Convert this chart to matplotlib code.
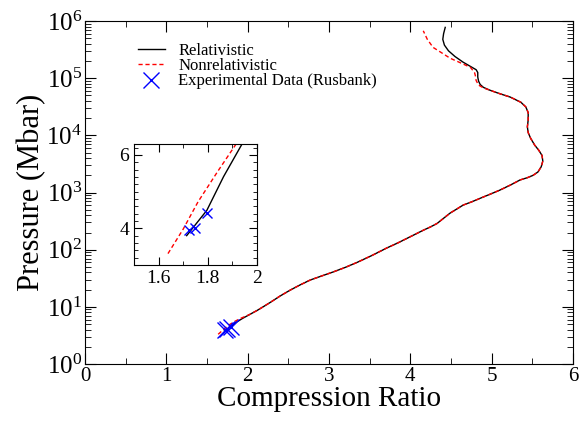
import matplotlib
matplotlib.use("Agg")
from matplotlib import pyplot as plt
from matplotlib.ticker import MultipleLocator, FuncFormatter, LogLocator, NullFormatter

plt.rcParams['font.family'] = ['Liberation Serif', 'DejaVu Serif']
plt.rcParams['mathtext.fontset'] = 'stix'

# relativistic Hugoniot (compression ratio, pressure in Mbar)
rel_x = [1.714, 1.796, 1.864, 1.94, 2.03, 2.12, 2.20, 2.28, 2.40, 2.52, 2.64, 2.77,
         2.91, 3.05, 3.20, 3.35, 3.53, 3.71, 3.85, 3.96, 4.06, 4.16, 4.25, 4.33,
         4.41, 4.49, 4.57, 4.65, 4.76, 4.86, 4.98, 5.10, 5.23, 5.35, 5.44, 5.51,
         5.57, 5.61, 5.63, 5.62, 5.58, 5.53, 5.48, 5.45, 5.44, 5.45, 5.45, 5.42,
         5.36, 5.23, 5.10, 4.98, 4.90, 4.86, 4.84, 4.83, 4.83, 4.81, 4.76, 4.65,
         4.55, 4.47, 4.42, 4.40, 4.41, 4.43]
rel_p = [3.80, 4.49, 5.41, 6.31, 7.41, 8.71, 10.2, 12.0, 15.5, 19.5, 24.0, 29.5,
         34.7, 40.7, 49.0, 60.3, 79.4, 107, 132, 158, 186, 219, 251, 288,
         355, 437, 513, 603, 692, 794, 933, 1100, 1350, 1660, 1820, 2000,
         2290, 2820, 3550, 4470, 5500, 6760, 8910, 11200, 14100, 18600, 25100, 31600,
         38000, 46800, 53700, 61700, 69200, 77600, 89100, 105000, 126000, 141000, 155000, 191000,
         240000, 302000, 380000, 479000, 603000, 776000]

# nonrelativistic
nrel_x = [1.638, 1.70, 1.76, 1.84, 1.912, 2.03, 2.12, 2.20, 2.28, 2.40, 2.52, 2.64, 2.77,
          2.91, 3.05, 3.20, 3.35, 3.53, 3.71, 3.85, 3.96, 4.06, 4.16, 4.25, 4.33,
          4.41, 4.49, 4.57, 4.65, 4.76, 4.86, 4.98, 5.10, 5.23, 5.35, 5.44, 5.51,
          5.57, 5.61, 5.63, 5.62, 5.58, 5.53, 5.48, 5.45, 5.44, 5.45, 5.45, 5.42,
          5.36, 5.23, 5.10, 4.98, 4.90, 4.84, 4.81, 4.80, 4.79, 4.74, 4.60, 4.49,
          4.38, 4.28, 4.21, 4.16]
nrel_p = [3.31, 3.98, 4.72, 5.55, 6.27, 7.41, 8.71, 10.2, 12.0, 15.5, 19.5, 24.0, 29.5,
          34.7, 40.7, 49.0, 60.3, 79.4, 107, 132, 158, 186, 219, 251, 288,
          355, 437, 513, 603, 692, 794, 933, 1100, 1350, 1660, 1820, 2000,
          2290, 2820, 3550, 4470, 5500, 6760, 8910, 11200, 14100, 18600, 25100, 31600,
          38000, 46800, 53700, 61700, 67600, 75900, 91200, 112000, 126000, 155000, 191000, 224000,
          282000, 347000, 479000, 676000]

# experimental data (Rusbank)
exp_x = [1.725, 1.748, 1.798]
exp_p = [3.95, 4.02, 4.42]

fig = plt.figure(figsize=(5.84, 4.26), dpi=100)
ax = fig.add_axes([0.1455, 0.1455, 0.8355, 0.805])

ax.plot(rel_x, rel_p, color='black', lw=1.0, label='Relativistic')
ax.plot(nrel_x, nrel_p, color='red', lw=1.0, ls=(0, (3, 2)), label='Nonrelativistic')
ax.plot(exp_x, exp_p, ls='none', marker='x', color='blue', ms=11, mew=1.0,
        label='Experimental Data (Rusbank)')

ax.set_yscale('log')
ax.set_xlim(0, 6)
ax.set_ylim(1, 1e6)
ax.xaxis.set_minor_locator(MultipleLocator(0.5))
ax.yaxis.set_major_locator(LogLocator(base=10, numticks=10))
ax.yaxis.set_minor_locator(LogLocator(base=10, subs=range(2, 10), numticks=20))
ax.yaxis.set_minor_formatter(NullFormatter())
ax.tick_params(which='both', direction='in', top=True, right=True)
ax.tick_params(axis='x', labelsize=15, pad=2)
ax.tick_params(axis='y', labelsize=18, pad=2)
ax.tick_params(which='major', length=8)
ax.tick_params(which='minor', length=4)
ax.set_xlabel('Compression Ratio', fontsize=21, labelpad=0)
ax.set_ylabel('Pressure (Mbar)', fontsize=22, labelpad=0)

ax.legend(loc='upper left', bbox_to_anchor=(0.085, 0.97), frameon=False,
          fontsize=12, handlelength=1.6, labelspacing=-0.05, borderpad=0.2,
          handletextpad=0.8)

# inset zoom on the experimental points
ins = fig.add_axes([0.2295, 0.378, 0.2106, 0.284])
ins.plot(rel_x, rel_p, color='black', lw=1.0)
ins.plot(nrel_x, nrel_p, color='red', lw=1.0, ls=(0, (3, 2)))
ins.plot(exp_x, exp_p, ls='none', marker='x', color='blue', ms=7, mew=1.0)
ins.set_xlim(1.5, 2.0)
ins.set_ylim(3, 6.3)
ins.xaxis.set_major_locator(MultipleLocator(0.2))
ins.xaxis.set_minor_locator(MultipleLocator(0.1))
ins.yaxis.set_major_locator(MultipleLocator(2))
ins.yaxis.set_minor_locator(MultipleLocator(0.2))
ins.xaxis.set_major_formatter(FuncFormatter(lambda v, p: '%g' % round(v, 2)))
ins.tick_params(which='both', direction='in', top=True, right=True, labelsize=14)
ins.tick_params(which='major', length=6)
ins.tick_params(which='minor', length=3)

plt.savefig('out.png', dpi=100)
